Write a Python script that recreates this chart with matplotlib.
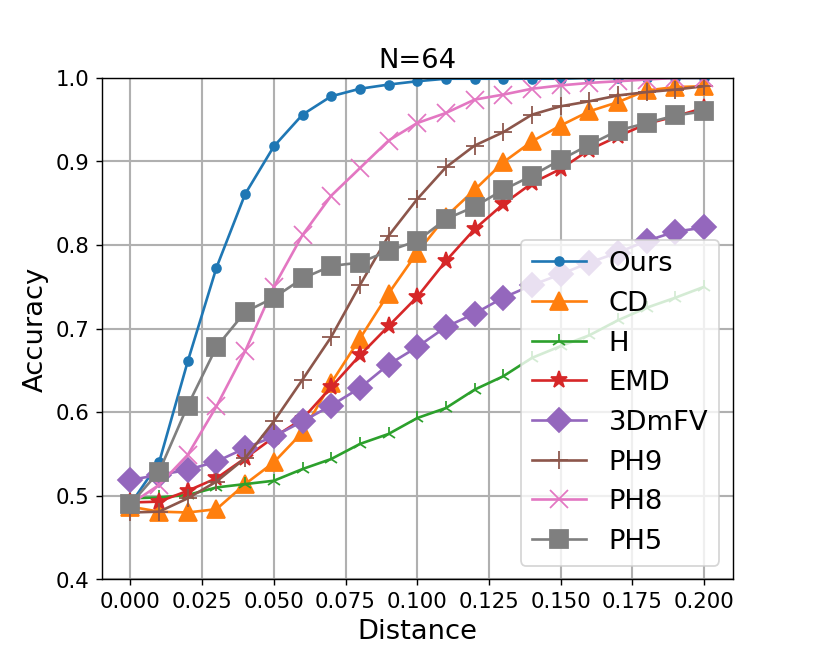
import matplotlib
matplotlib.use("Agg")
import matplotlib.pyplot as plt
import numpy as np

distance = [round(0.01 * i, 2) for i in range(21)]

ours = [0.490, 0.540, 0.661, 0.773, 0.861, 0.918, 0.956, 0.978, 0.987, 0.992, 0.996,
        0.999, 0.999, 0.999, 0.999, 0.999, 1.000, 1.000, 1.000, 1.000, 1.000]
cd = [0.487, 0.481, 0.480, 0.484, 0.514, 0.540, 0.576, 0.635, 0.688, 0.742, 0.791,
      0.834, 0.866, 0.899, 0.924, 0.943, 0.960, 0.971, 0.985, 0.989, 0.990]
h = [0.497, 0.498, 0.501, 0.510, 0.514, 0.518, 0.532, 0.544, 0.562, 0.574, 0.593,
     0.605, 0.627, 0.643, 0.665, 0.679, 0.692, 0.710, 0.725, 0.737, 0.750]
emd = [0.492, 0.493, 0.506, 0.521, 0.545, 0.570, 0.592, 0.630, 0.668, 0.703, 0.738,
       0.781, 0.819, 0.849, 0.874, 0.891, 0.914, 0.930, 0.945, 0.954, 0.964]
dmfv = [0.519, 0.525, 0.531, 0.541, 0.557, 0.571, 0.589, 0.608, 0.629, 0.657, 0.678,
        0.702, 0.718, 0.737, 0.752, 0.765, 0.779, 0.791, 0.805, 0.816, 0.821]
ph9 = [0.480, 0.481, 0.497, 0.517, 0.545, 0.589, 0.639, 0.690, 0.752, 0.811, 0.855,
       0.893, 0.919, 0.935, 0.956, 0.966, 0.972, 0.979, 0.983, 0.986, 0.990]
ph8 = [0.490, 0.513, 0.549, 0.607, 0.673, 0.750, 0.812, 0.859, 0.892, 0.925, 0.946,
       0.958, 0.974, 0.980, 0.987, 0.991, 0.994, 0.996, 0.998, 1.000, 1.000]
ph5 = [0.490, 0.529, 0.608, 0.678, 0.720, 0.737, 0.760, 0.775, 0.779, 0.793, 0.805,
       0.831, 0.846, 0.866, 0.883, 0.902, 0.920, 0.937, 0.946, 0.955, 0.960]

labels = ["Ours", "CD", "H", "EMD", "3DmFV", "PH9", "PH8", "PH5"]
series = [ours, cd, h, emd, dmfv, ph9, ph8, ph5]
markers = ["o", "^", "2", "*", "D", "+", "x", "s"]
msizes = [5, 10, 8, 10, 10, 10, 10, 10]

fig = plt.figure(figsize=(6.4, 5.12), dpi=127.2)
ax = fig.add_subplot(111)
for ys, lab, m, ms in zip(series, labels, markers, msizes):
    ax.plot(distance, ys, marker=m, markersize=ms, label=lab)

ax.set_ylim(0.4, 1.0)
ax.set_xticks(np.arange(0, 0.2001, 0.025))
ax.set_xticklabels(["%.3f" % v for v in np.arange(0, 0.2001, 0.025)])
ax.tick_params(labelsize=12)
ax.grid(True, linewidth=1.2)
ax.set_xlabel("Distance", fontsize=15.5)
ax.set_ylabel("Accuracy", fontsize=15.5)
ax.set_title("N=64", fontsize=15.5)
ax.legend(loc="lower right", fontsize=15.5)
fig.savefig("out.png", dpi=127.2)
